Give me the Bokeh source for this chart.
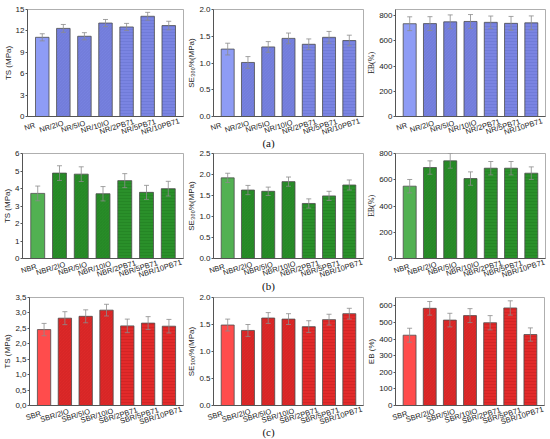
from bokeh.plotting import figure
from bokeh.models import (ColumnDataSource, Range1d, FixedTicker, Whisker, TeeHead,
                          CustomJSTickFormatter, Div, LabelSet)
from bokeh.core.properties import value
from bokeh.layouts import column, row
from bokeh.embed import file_html
from bokeh.resources import INLINE

# ---------------- data ----------------
nr_names = ["NR", "NR/2IO", "NR/5IO", "NR/10IO", "NR/2PB71", "NR/5PB71", "NR/10PB71"]
nbr_names = ["NBR", "NBR/2IO", "NBR/5IO", "NBR/10IO", "NBR/2PB71", "NBR/5PB71", "NBR/10PB71"]
sbr_names = ["SBR", "SBR/2IO", "SBR/5IO", "SBR/10IO", "SBR/2PB71", "SBR/5PB71", "SBR/10PB71"]

nr_ts = [11.1, 12.35, 11.25, 13.1, 12.55, 14.05, 12.75]
nr_ts_err = [0.5, 0.55, 0.5, 0.5, 0.5, 0.55, 0.6]
nr_se = [1.26, 1.01, 1.30, 1.46, 1.35, 1.48, 1.42]
nr_se_err = [0.11, 0.11, 0.10, 0.10, 0.10, 0.11, 0.10]
nr_eb = [737, 738, 752, 755, 748, 740, 744]
nr_eb_err = [55, 55, 55, 55, 50, 55, 55]

nbr_ts = [3.72, 4.88, 4.82, 3.70, 4.45, 3.78, 3.99]
nbr_ts_err = [0.42, 0.42, 0.42, 0.41, 0.40, 0.40, 0.42]
nbr_se = [1.92, 1.63, 1.60, 1.83, 1.31, 1.49, 1.75]
nbr_se_err = [0.11, 0.11, 0.10, 0.11, 0.11, 0.11, 0.12]
nbr_eb = [551, 693, 744, 609, 688, 688, 650]
nbr_eb_err = [51, 51, 56, 51, 51, 51, 48]

sbr_ts = [2.46, 2.83, 2.89, 3.09, 2.58, 2.67, 2.57]
sbr_ts_err = [0.20, 0.21, 0.21, 0.19, 0.22, 0.21, 0.22]
sbr_se = [1.49, 1.39, 1.62, 1.60, 1.46, 1.59, 1.70]
sbr_se_err = [0.11, 0.11, 0.10, 0.10, 0.11, 0.10, 0.10]
sbr_eb = [423, 585, 514, 541, 498, 587, 427]
sbr_eb_err = [42, 41, 41, 42, 43, 43, 40]

hatches = [" ", "\\", "\\", "\\", "-", "-", "-"]

row_styles = {
    "a": dict(light="#8e9cf5", dark="#7a84e2", hatch="#4a55b0"),
    "b": dict(light="#52b152", dark="#2a902a", hatch="#136013"),
    "c": dict(light="#ff4c4c", dark="#e22a2a", hatch="#9c1010"),
}

SANS = "Liberation Sans"
SERIF = "Liberation Serif"
STRIP_H = 22
X0, X1 = 0.3, 7.7
EXTRA_L = 8  # strip frame reaches this many px left of the plot frame


def panel(names, vals, errs, ymax, ystep, ylabel, fmt, style, w, h, bl, br, bt, bb,
          label_font=SANS):
    n = len(names)
    xs = list(range(1, n + 1))
    fills = [style["light"]] + [style["dark"]] * (n - 1)
    src = ColumnDataSource(dict(
        x=xs, top=vals,
        upper=[v + e for v, e in zip(vals, errs)],
        lower=[v - e for v, e in zip(vals, errs)],
        fill=fills, hatch=hatches[:n],
        name=names, one=[1] * n,
    ))
    p = figure(width=w, height=h, x_range=Range1d(X0, X1), y_range=Range1d(0, ymax),
               output_backend="svg", toolbar_location=None,
               min_border_left=bl, min_border_right=br, min_border_top=bt, min_border_bottom=bb)
    p.vbar(x="x", top="top", width=0.64, source=src, fill_color="fill",
           line_color="#4d4d4d", line_width=0.8,
           hatch_pattern="hatch", hatch_color=style["hatch"], hatch_alpha=0.35,
           hatch_scale=3, hatch_weight=0.6)
    head = dict(size=5, line_color="#8c8c8c", line_width=0.8)
    wk = Whisker(source=src, base="x", upper="upper", lower="lower",
                 line_color="#8c8c8c", line_width=0.8,
                 upper_head=TeeHead(**head), lower_head=TeeHead(**head), level="annotation")
    p.add_layout(wk)

    p.xgrid.visible = False
    p.ygrid.visible = False
    p.outline_line_color = "#9a9a9a"
    p.outline_line_width = 0.8
    p.background_fill_color = "white"
    p.border_fill_color = "white"

    xa = p.xaxis[0]
    xa.ticker = FixedTicker(ticks=[])
    xa.major_tick_line_color = None
    xa.minor_tick_line_color = None
    xa.axis_line_color = "#555555"

    ya = p.yaxis[0]
    k = int(round(ymax // ystep))
    ya.ticker = FixedTicker(ticks=[i * ystep for i in range(k + 1)])
    if fmt is not None:
        ya.formatter = CustomJSTickFormatter(code=fmt)
    ya.major_label_text_font = SANS
    ya.major_label_text_font_size = "8px"
    ya.major_label_text_color = "#222222"
    ya.major_label_standoff = 1
    ya.major_tick_in = 0
    ya.major_tick_out = 2
    ya.major_tick_line_color = "#555555"
    ya.minor_tick_line_color = None
    ya.axis_line_color = "#555555"
    ya.axis_label = ylabel
    ya.axis_label_text_font = label_font
    ya.axis_label_text_font_style = "normal"
    ya.axis_label_text_font_size = "8px"
    ya.axis_label_text_color = "#222222"
    ya.axis_label_standoff = 0

    # strip under the plot carrying the rotated category names; same x scale as the
    # plot, but its frame is widened so that the slanted names are not clipped
    frame_w = w - bl - br
    per_px = (X1 - X0) / frame_w
    s = figure(width=w, height=STRIP_H,
               x_range=Range1d(X0 - EXTRA_L * per_px, X1 + br * per_px), y_range=Range1d(0, 1),
               output_backend="svg", toolbar_location=None,
               x_axis_location=None, y_axis_location=None,
               min_border_left=bl - EXTRA_L, min_border_right=0,
               min_border_top=0, min_border_bottom=0)
    s.grid.visible = False
    s.outline_line_color = None
    s.background_fill_color = None
    s.border_fill_color = None
    lbl = LabelSet(source=src, x="x", y="one", text="name", angle=0.30,
                   x_offset=-8.0, y_offset=-10.0, text_align="center", text_baseline="middle",
                   text_font=value(SANS), text_font_size=value("7.5px"), text_color="#222222")
    s.add_layout(lbl)
    return p, s


dot1 = "return tick.toFixed(1)"
comma1 = "return tick.toFixed(1).replace('.', ',')"
SE_LABEL = "SE\u2083\u2080\u2080%(MPa)"

sa, sb, sc = row_styles["a"], row_styles["b"], row_styles["c"]

a1 = panel(nr_names, nr_ts, nr_ts_err, 15, 3, "TS (MPa)", None, sa, 184, 121, 22, 1, 9, 5)
a2 = panel(nr_names, nr_se, nr_se_err, 2.0, 0.5, SE_LABEL, dot1, sa, 180, 121, 25, 1, 9, 5)
a3 = panel(nr_names, nr_eb, nr_eb_err, 850, 200, "EB(%)", None, sa, 183, 121, 31, 2, 9, 5, SERIF)

b1 = panel(nbr_names, nbr_ts, nbr_ts_err, 6, 1, "TS (MPa)", None, sb, 184, 115, 21, 1, 5, 5)
b2 = panel(nbr_names, nbr_se, nbr_se_err, 2.5, 0.5, SE_LABEL, dot1, sb, 180, 115, 26, 1, 5, 5)
b3 = panel(nbr_names, nbr_eb, nbr_eb_err, 800, 200, "EB(%)", None, sb, 183, 115, 31, 2, 5, 5, SERIF)

c1 = panel(sbr_names, sbr_ts, sbr_ts_err, 3.5, 0.5, "TS (MPa)", comma1, sc, 184, 118, 26, 1, 5, 5)
c2 = panel(sbr_names, sbr_se, sbr_se_err, 2.0, 0.5, SE_LABEL, dot1, sc, 180, 118, 24, 1, 5, 5)
c3 = panel(sbr_names, sbr_eb, sbr_eb_err, 650, 100, "EB (%)", None, sc, 183, 118, 29, 3, 5, 5)


def cap(txt, h):
    return Div(text=txt, width=547, height=h, margin=(0, 0, 0, 0),
               styles={"text-align": "center", "font-family": SERIF,
                       "font-size": "11px", "line-height": f"{h}px", "color": "#111",
                       "padding-right": "10px"})


def block(panels, caption, cap_h):
    plots = row(*[pp[0] for pp in panels])
    strips = row(*[pp[1] for pp in panels], margin=(-5, 0, 0, 0))
    return [plots, strips, cap(caption, cap_h)]


layout = column(*block([a1, a2, a3], "(a)", 10),
                *block([b1, b2, b3], "(b)", 12),
                *block([c1, c2, c3], "(c)", 11))

open("out.html", "w").write(file_html(layout, INLINE))
